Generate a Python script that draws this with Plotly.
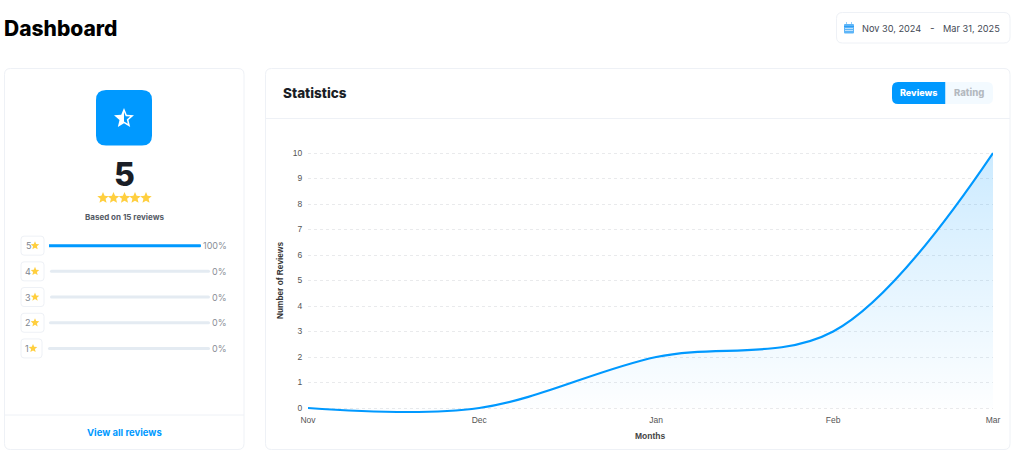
import math
import plotly.graph_objects as go

W, H = 1024, 461

# ---- Data ----
month_dates = ["2024-11-01", "2024-12-01", "2025-01-01", "2025-02-01", "2025-03-01"]
review_counts = [0, 0, 2, 3, 10]
y_ticks = [0, 1, 2, 3, 4, 5, 6, 7, 8, 9, 10]

rating_labels = ["5", "4", "3", "2", "1"]
rating_share = [100, 0, 0, 0, 0]

BLUE = "#0099ff"
GOLD = "#ffcf3f"
DARK = "#1a1e26"
BORDER = "#eef1f6"
FONT = "Inter"


# ---- Pixel helpers for the page furniture ----
def px(x):
    return x / W


def py(y):
    return 1 - y / H


def rounded(x0, y0, x1, y1, r=6, rl=None, rr=None):
    rl = r if rl is None else rl
    rr = r if rr is None else rr
    return (
        f"M {px(x0 + rl)} {py(y0)} L {px(x1 - rr)} {py(y0)} "
        f"Q {px(x1)} {py(y0)} {px(x1)} {py(y0 + rr)} L {px(x1)} {py(y1 - rr)} "
        f"Q {px(x1)} {py(y1)} {px(x1 - rr)} {py(y1)} L {px(x0 + rl)} {py(y1)} "
        f"Q {px(x0)} {py(y1)} {px(x0)} {py(y1 - rl)} L {px(x0)} {py(y0 + rl)} "
        f"Q {px(x0)} {py(y0)} {px(x0 + rl)} {py(y0)} Z"
    )


def star_points(cx, cy, r):
    pts = []
    for i in range(10):
        rad = r if i % 2 == 0 else r * 0.45
        a = math.radians(-90 + 36 * i)
        pts.append((cx + rad * math.cos(a), cy + rad * math.sin(a)))
    return pts


def poly(pts):
    return "M " + " L ".join(f"{px(x)} {py(y)}" for x, y in pts) + " Z"


shapes = []


def add_path(path, fill, line=None, width=1):
    shapes.append(dict(
        type="path", path=path, xref="paper", yref="paper",
        fillcolor=fill, line=dict(color=line or "rgba(0,0,0,0)", width=width if line else 0),
        layer="below",
    ))


def add_hline(x0, x1, y, color=BORDER):
    shapes.append(dict(
        type="line", xref="paper", yref="paper",
        x0=px(x0), x1=px(x1), y0=py(y), y1=py(y),
        line=dict(color=color, width=1), layer="below",
    ))


def add_star(cx, cy, r):
    add_path(poly(star_points(cx, cy, r)), GOLD)


# ---- Cards ----
add_path(rounded(4.5, 68.5, 244, 449.5, 6), "white", BORDER)
add_path(rounded(265.5, 68.5, 1010, 449.5, 6), "white", BORDER)
add_path(rounded(836.5, 12.5, 1010, 43, 6), "white", BORDER)
add_hline(5, 244, 415)
add_hline(266, 1010, 118.5)

# ---- Star icon ----
add_path(rounded(96, 90, 152, 145.5, 10), BLUE)
add_path(poly(star_points(124, 118.5, 10.5)), "white")
add_path(poly(star_points(124, 118.5, 6.5)[:6]), BLUE)

# ---- Big rating stars ----
for sx in [103, 113.5, 124.5, 135, 146]:
    add_star(sx, 198, 6)

# ---- Calendar icon ----
add_path(rounded(844, 24, 854, 33.5, 1), "#5db5f8")
add_hline(844, 854, 26.5, "#2f9ff5")
for gy in [28.5, 30.5]:
    add_hline(845, 853, gy, "#bfe2fc")
add_hline(846, 847, 23, "#2f9ff5")
add_hline(851, 852, 23, "#2f9ff5")

# ---- Reviews / Rating toggle ----
add_path(rounded(892, 82, 945.5, 104, 0, rl=6, rr=0.01), BLUE)
add_path(rounded(945.5, 82, 993, 104, 0, rl=0.01, rr=6), "#f3faff")

# ---- Rating rows: label boxes and grey tracks ----
row_top = 232.8
row_h = 25.7
for i, lab in enumerate(rating_labels):
    cy = row_top + row_h * (i + 0.5)
    bx1 = 44 if lab != "1" else 42
    add_path(rounded(21, cy - 9.5, bx1, cy + 9.5, 3), "white", BORDER)
    add_star(35 if lab != "1" else 33, cy, 4.5)
    if i > 0:
        tx0 = {"4": 50, "3": 50, "2": 49, "1": 48}[lab]
        add_path(rounded(tx0, cy - 1.5, 210, cy + 1.5, 1.5), "#e4ebf2")

fig = go.Figure()

# ---- Area chart on a real date axis ----
fig.add_trace(go.Scatter(
    x=month_dates, y=review_counts,
    mode="lines",
    line=dict(color=BLUE, width=2.2, shape="spline", smoothing=1.0),
    fill="tozeroy",
    fillgradient=dict(
        type="vertical",
        colorscale=[[0, "rgba(0,153,255,0.005)"], [1, "rgba(0,153,255,0.2)"]],
    ),
    cliponaxis=False,
    hoverinfo="skip",
    showlegend=False,
    xaxis="x", yaxis="y",
))

# ---- Rating share bars ----
fig.add_trace(go.Bar(
    x=rating_share, y=rating_labels,
    orientation="h",
    width=0.115,
    marker=dict(color=BLUE, line=dict(width=0), cornerradius=1.5),
    hoverinfo="skip",
    showlegend=False,
    xaxis="x2", yaxis="y2",
))

annotations = []


def label(x, y, text, size, color, anchor="center", angle=0, family=FONT, yref="paper", weight=None):
    annotations.append(dict(
        x=px(x), y=py(y) if yref == "paper" else y,
        xref="paper", yref=yref,
        text=text, showarrow=False,
        xanchor=anchor, yanchor="middle", textangle=angle,
        font=dict(size=size, color=color, family=family, weight=weight),
    ))


label(2, 28.5, "Dashboard", 21, "#000000", "left", weight=800)
label(860, 28, "Nov 30, 2024", 9.2, "#444a55", "left")
label(932, 28, "-", 10, "#444a55")
label(941, 28, "Mar 31, 2025", 9.2, "#444a55", "left")
label(124, 175, "5", 32, DARK, weight=800)
label(124, 217, "Based on 15 reviews", 8, "#555b66", weight=700)
label(124, 432, "View all reviews", 9.5, BLUE, weight=700)
label(281, 93.5, "Statistics", 13.5, DARK, "left", weight=800)
label(918.5, 93, "Reviews", 9, "white", weight=800)
label(969, 93, "Rating", 9.5, "#b4b9bf", weight=800)

# the rating axis is categorical, so annotations sit on the row index
for row, (lab, share) in enumerate(zip(rating_labels, rating_share)):
    label(28 if lab != "1" else 27, row, lab, 9, "#808690", yref="y2")
    label(229, row, f"{share}%", 9, "#8a8f98", "right", yref="y2")

label(650, 435.5, "<b>Months</b>", 8.5, "#444444", family="Liberation Sans")
label(280, 281, "<b>Number of Reviews</b>", 8.3, "#333333", angle=-90, family="Liberation Sans")

fig.update_layout(
    width=W, height=H,
    margin=dict(l=0, r=0, t=0, b=0, autoexpand=False),
    paper_bgcolor="white",
    plot_bgcolor="rgba(0,0,0,0)",
    shapes=shapes,
    annotations=annotations,
    barmode="overlay",
    xaxis=dict(
        domain=[px(308), px(993)],
        type="date",
        range=[month_dates[0], month_dates[-1]],
        tickvals=month_dates,
        tickformat="%b",
        showgrid=False, zeroline=False, showline=False,
        ticks="outside", ticklen=4, tickcolor="rgba(0,0,0,0)",
        tickfont=dict(size=8.5, color="#555555", family="Liberation Sans"),
        anchor="free",
        position=py(408),
    ),
    yaxis=dict(
        # range runs a little past 0 and 10 so both end gridlines draw
        domain=[py(420.75), py(147.9)],
        range=[-0.5, 10.2],
        tickvals=y_ticks,
        gridcolor="#e9eaec",
        griddash="3px,3px",
        gridwidth=1,
        zeroline=False, showline=False,
        ticks="outside", ticklen=3, tickcolor="rgba(0,0,0,0)",
        tickfont=dict(size=8.5, color="#555555", family="Liberation Sans"),
        anchor="x",
    ),
    xaxis2=dict(
        domain=[px(49), px(201)],
        range=[0, 100],
        visible=False,
        anchor="y2",
    ),
    yaxis2=dict(
        domain=[py(row_top + row_h * 5), py(row_top)],
        type="category",
        categoryorder="array",
        categoryarray=rating_labels,
        range=[4.5, -0.5],
        visible=False,
        anchor="x2",
    ),
)

fig.write_html(
    "out.html",
    config=dict(displayModeBar=False),
    post_script="document.body.style.margin='0';document.body.style.overflow='hidden';",
)
